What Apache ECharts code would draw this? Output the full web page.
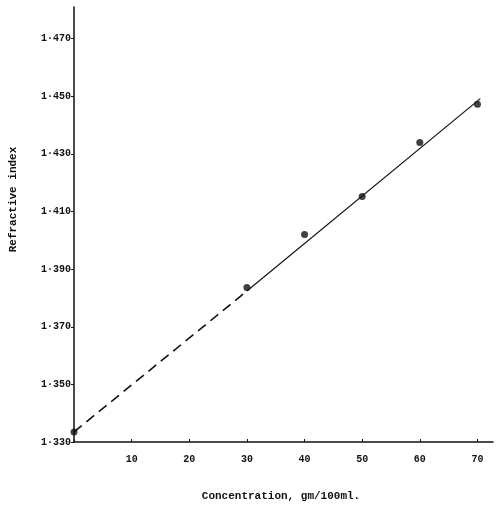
<!DOCTYPE html>
<html><head><meta charset="utf-8">
<script src="https://cdn.jsdelivr.net/npm/echarts@6/dist/echarts.min.js"></script>
<style>html,body{margin:0;background:#fff}#c{width:500px;height:507px}</style>
</head><body><div id="c"></div>
<script>
const concentration = [0, 30, 40, 50, 60, 70];
const refractiveIndex = [1.3335, 1.3836, 1.402, 1.4152, 1.434, 1.4472];
const fitDashed = [[0, 1.3335], [30, 1.3824]];
const fitSolid = [[30, 1.3824], [70.5, 1.4492]];
const chart = echarts.init(document.getElementById('c'));
const font = 'Liberation Mono';
chart.setOption({
  animation: false,
  grid: {left: 69, right: 7, top: 7, bottom: 64},
  xAxis: {
    type: 'value', min: 0, max: 72.7, interval: 10,
    name: 'Concentration, gm/100ml.', nameLocation: 'middle', nameGap: 49,
    nameTextStyle: {fontFamily: font, fontSize: 11, fontWeight: 'bold', color: '#111', padding:[0,0,0,-5]},
    axisLine: {lineStyle: {color: '#111', width: 1.5}},
    axisTick: {inside: true, length: 3, lineStyle: {color: '#111'}},
    splitLine: {show: false},
    axisLabel: {fontFamily: font, fontSize: 10, fontWeight: 'bold', color: '#111', margin: 12, showMaxLabel: false,
      formatter: v => v === 0 ? '' : String(v)}
  },
  yAxis: {
    type: 'value', min: 1.33, max: 1.481, interval: 0.02,
    name: 'Refractive index', nameLocation: 'middle', nameGap: 55,
    nameTextStyle: {fontFamily: font, fontSize: 11, fontWeight: 'bold', color: '#111', padding:[0,0,0,50]},
    axisLine: {lineStyle: {color: '#111', width: 1.5}},
    axisTick: {length: 3, lineStyle: {color: '#111'}},
    splitLine: {show: false},
    axisLabel: {fontFamily: font, fontSize: 10, fontWeight: 'bold', color: '#111', showMaxLabel: false, margin: 3,
      formatter: v => v.toFixed(3).replace('.', '·')}
  },
  series: [
    {type: 'line', data: fitDashed, symbol: 'none', lineStyle: {color: '#111', width: 1.6, type: [10, 6]}},
    {type: 'line', data: fitSolid, symbol: 'none', lineStyle: {color: '#111', width: 1.2}},
    {type: 'scatter', data: concentration.map((c, i) => [c, refractiveIndex[i]]),
     symbolSize: 7, itemStyle: {color: '#111'}}
  ]
});
</script></body></html>
